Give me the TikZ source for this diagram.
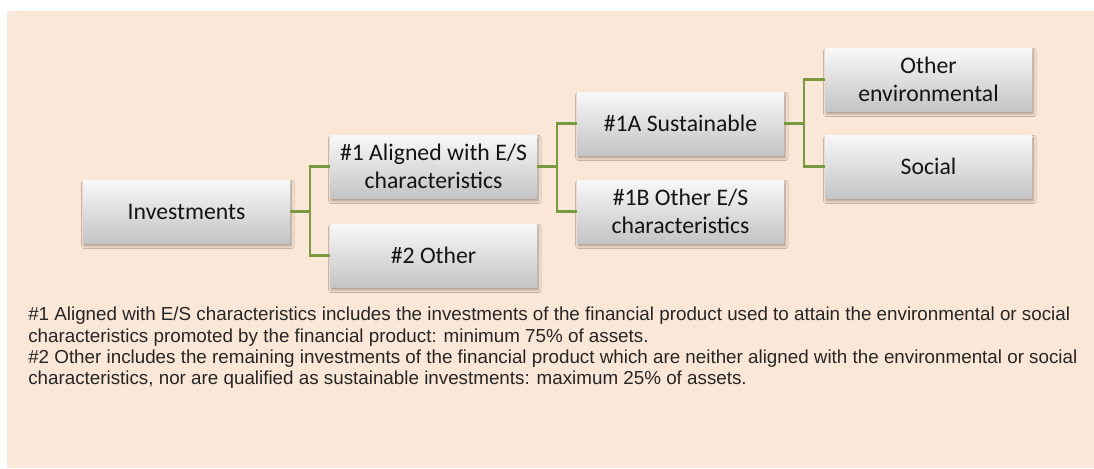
\documentclass[tikz,border=0pt]{standalone}
\usepackage{fontspec}
\newfontfamily\boxfont{Carlito}
\newfontfamily\notefont{Liberation Sans}
\usetikzlibrary{shadows.blur}
\definecolor{bgpeach}{RGB}{251,231,215}
\definecolor{conngreen}{RGB}{122,152,62}
\definecolor{boxtop}{RGB}{248,248,248}
\definecolor{boxbot}{RGB}{196,196,196}
\definecolor{notetext}{RGB}{38,38,38}
\tikzset{
  hbox/.style={rectangle, inner sep=0pt, minimum width=155.25pt, minimum height=47.25pt,
    top color=boxtop, bottom color=boxbot, align=center, text=black!92,
    font=\boxfont\fontsize{17.8}{20.5}\selectfont,
    blur shadow={shadow xshift=1pt, shadow yshift=-2.2pt, shadow blur radius=2pt, shadow opacity=35}},
  conn/.style={draw=conngreen, line width=1.7pt},
  note/.style={anchor=base west, inner sep=0pt, text=notetext,
    font=\notefont\fontsize{14.1}{15.5}\selectfont}
}
\begin{document}
\begin{tikzpicture}[x=0.75pt,y=-0.75pt]
\useasboundingbox (0,0) rectangle (1094,468);
\fill[white] (0,0) rectangle (1094,468);
\fill[bgpeach] (7,11) rectangle (1094,468);

\node[hbox] (inv) at (186.5,211.5) {Investments};
\node[hbox] (a1) at (433.5,166.5) {\#1 Aligned with E/S\\characteristics};
\node[hbox] (o2) at (433.5,255.5) {\#2 Other};
\node[hbox] (s1a) at (680.5,123.5) {\#1A Sustainable};
\node[hbox] (s1b) at (680.5,211.5) {\#1B Other E/S\\characteristics};
\node[hbox] (env) at (928.5,79.5) {Other\\environmental};
\node[hbox] (soc) at (928.5,166.5) {Social};

\draw[conn] (inv.east) -- ++(20,0) |- (a1.west);
\draw[conn] (inv.east) -- ++(20,0) |- (o2.west);
\draw[conn] (a1.east) -- ++(20,0) |- (s1a.west);
\draw[conn] (a1.east) -- ++(20,0) |- (s1b.west);
\draw[conn] (s1a.east) -- ++(20,0) |- (env.west);
\draw[conn] (s1a.east) -- ++(20,0) |- (soc.west);

\node[note] (l1) at (28,320.7) {\#1 Aligned with E/S characteristics includes the investments of the financial product used to attain the environmental or social};
\node[note] (l2) at (28,342) {characteristics promoted by the financial product: minimum 75\% of assets.};
\node[note] (l3) at (28,363.3) {\#2 Other includes the remaining investments of the financial product which are neither aligned with the environmental or social};
\node[note] (l4) at (28,384.6) {characteristics, nor are qualified as sustainable investments: maximum 25\% of assets.};
\end{tikzpicture}
\end{document}
